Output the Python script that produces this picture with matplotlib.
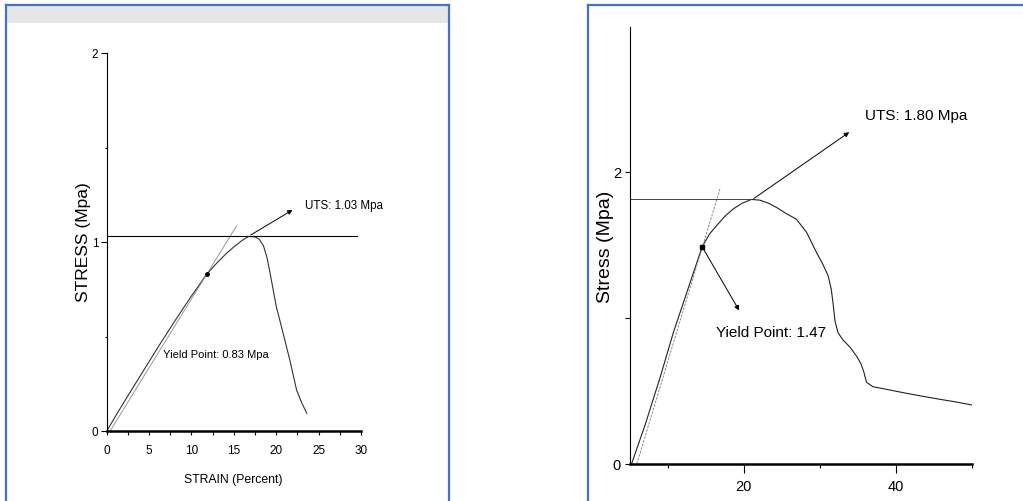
import numpy as np
import matplotlib
matplotlib.use("Agg")
import matplotlib.pyplot as plt
from matplotlib.lines import Line2D
from matplotlib.patches import Rectangle

# left test: strain (percent) vs stress (Mpa)
strain_a = [0, 2, 4, 6, 8, 10, 11.8, 13, 14, 15, 16, 16.7, 17.5, 18.0, 18.5, 18.9,
            19.3, 20, 20.8, 21.6, 22.4, 23, 23.6]
stress_a = [0, 0.15, 0.295, 0.44, 0.58, 0.715, 0.83, 0.89, 0.935, 0.975, 1.01,
            1.03, 1.028, 1.015, 0.98, 0.92, 0.83, 0.66, 0.52, 0.376, 0.217, 0.15, 0.094]
tangent_a_x = [0.4, 15.3]
tangent_a_y = [0, 1.085]
uts_a = 1.03
yield_a = (11.8, 0.83)

# right test
strain_b = [5.2, 7, 9, 10.7, 12.5, 14.5, 15.5, 16.4, 17.5, 18.6, 19.8, 21.0, 22.1,
            23.2, 24.3, 25.5, 26.9, 28.25, 29.57, 30.4, 31.1, 31.5, 31.75, 32.0,
            32.4, 33.07, 34.0, 34.83, 35.4, 35.8, 36.15, 37.0, 39, 41.4, 43.5, 45.8,
            48, 50]
stress_b = [0, 0.27, 0.6, 0.9, 1.18, 1.49, 1.58, 1.635, 1.70, 1.75, 1.79, 1.815, 1.81,
            1.79, 1.76, 1.72, 1.68, 1.59, 1.45, 1.37, 1.29, 1.20, 1.10, 0.98,
            0.90, 0.85, 0.80, 0.74, 0.69, 0.63, 0.56, 0.53, 0.51, 0.485, 0.465, 0.444,
            0.425, 0.405]
tangent_b_x = [5.9, 16.84]
tangent_b_y = [0, 1.886]
uts_b = 1.817
yield_b = (14.5, 1.49)

W, H = 1023, 501
font = ['Liberation Sans', 'DejaVu Sans']

fig = plt.figure(figsize=(W / 100, H / 100), dpi=100)


def fx(px):
    return px / W


def fy(py):
    return 1 - py / H


# panel frames
blue = '#4472c4'
fig.patches.append(Rectangle((fx(7), fy(23)), fx(441), 18 / H, transform=fig.transFigure,
                             facecolor='#e6e6e6', edgecolor='none', zorder=0))
for xs, ys in [([6, 6], [5, 501]), ([6, 448.7], [5, 5]), ([448.7, 448.7], [5, 501]),
               ([587.5, 587.5], [5, 501]), ([587.5, 1023], [5, 5])]:
    fig.add_artist(Line2D([fx(v) for v in xs], [fy(v) for v in ys], color=blue, lw=1.6,
                          transform=fig.transFigure))

# ---- left chart
ax1 = fig.add_axes([fx(106.7), fy(431), fx(361 - 106.7), (431 - 53.3) / H])
ax1.plot(strain_a, stress_a, color='#333333', lw=0.8)
ax1.plot(tangent_a_x, tangent_a_y, color='#888888', lw=0.6)
ax1.plot([0, 29.55], [uts_a, uts_a], color='black', lw=0.8)
ax1.plot(*yield_a, 'o', color='black', ms=2.5)
ax1.annotate('', xy=(22.2, 1.178), xytext=(16.7, 1.03),
             arrowprops=dict(arrowstyle='-|>', color='black', lw=0.7, mutation_scale=7))
ax1.text(23.4, 1.19, 'UTS: 1.03 Mpa', family=font, fontsize=8.4, va='center')
ax1.text(6.6, 0.40, 'Yield Point: 0.83 Mpa', family=font, fontsize=8, va='center')
ax1.set_xlim(0, 30)
ax1.set_ylim(0, 2)
ax1.set_xticks(np.arange(0, 31, 5))
ax1.set_xticks(np.arange(2.5, 30, 5), minor=True)
ax1.set_yticks([0, 1, 2])
ax1.set_yticks([0.5, 1.5], minor=True)
ax1.tick_params(axis='x', which='both', length=3, width=0.8, pad=7, labelsize=8.5,
                labelfontfamily=font)
ax1.tick_params(axis='y', which='major', length=4, width=0.8, pad=2, labelsize=8.5,
                labelfontfamily=font)
ax1.tick_params(axis='y', which='minor', length=1.5, width=0.8)
ax1.text(-0.09, 0.5, 'STRESS (Mpa)', transform=ax1.transAxes, rotation=90,
         ha='center', va='center', family=font, fontsize=12.5)
ax1.text(0.497, -0.13, 'STRAIN (Percent)', transform=ax1.transAxes,
         ha='center', va='center', family=font, fontsize=8.8)

# ---- right chart
ax2 = fig.add_axes([fx(630), fy(464), fx(971.7 - 630), (464 - 26.7) / H])
ax2.plot(strain_b, stress_b, color='#222222', lw=0.8)
ax2.plot(tangent_b_x, tangent_b_y, color='#777777', lw=0.6, ls=(0, (3, 1.5)))
ax2.plot([5, 21.0], [uts_b, uts_b], color='#444444', lw=0.7)
ax2.plot(*yield_b, 's', color='black', ms=2.5)
ax2.annotate('', xy=(34.17, 2.287), xytext=(21.0, 1.81),
             arrowprops=dict(arrowstyle='-|>', color='black', lw=0.7, mutation_scale=7))
ax2.annotate('', xy=(19.56, 1.037), xytext=yield_b,
             arrowprops=dict(arrowstyle='-|>', color='black', lw=0.7, mutation_scale=7))
ax2.text(35.9, 2.386, 'UTS: 1.80 Mpa', family=font, fontsize=11, va='center')
ax2.text(16.3, 0.90, 'Yield Point: 1.47', family=font, fontsize=11, va='center')
ax2.set_xlim(5, 50)
ax2.set_ylim(0, 3)
ax2.set_xticks([20, 40])
ax2.set_xticks([10, 30, 50], minor=True)
ax2.set_yticks([0, 1, 2])
ax2.set_yticklabels(['0', '', '2'])
ax2.tick_params(axis='x', which='major', length=6.5, width=0.8, pad=5, labelsize=10.5,
                labelfontfamily=font)
ax2.tick_params(axis='x', which='minor', length=3, width=0.8)
ax2.tick_params(axis='y', length=3.5, width=0.8, pad=3, labelsize=10.5,
                labelfontfamily=font)
ax2.text(-0.073, 0.497, 'Stress (Mpa)', transform=ax2.transAxes, rotation=90,
         ha='center', va='center', family=font, fontsize=14)

for ax in (ax1, ax2):
    ax.spines['top'].set_visible(False)
    ax.spines['right'].set_visible(False)
    ax.spines['left'].set_linewidth(0.8)
    ax.spines['bottom'].set_linewidth(1.8)
    ax.patch.set_alpha(0)

fig.savefig('out.png', dpi=100)
